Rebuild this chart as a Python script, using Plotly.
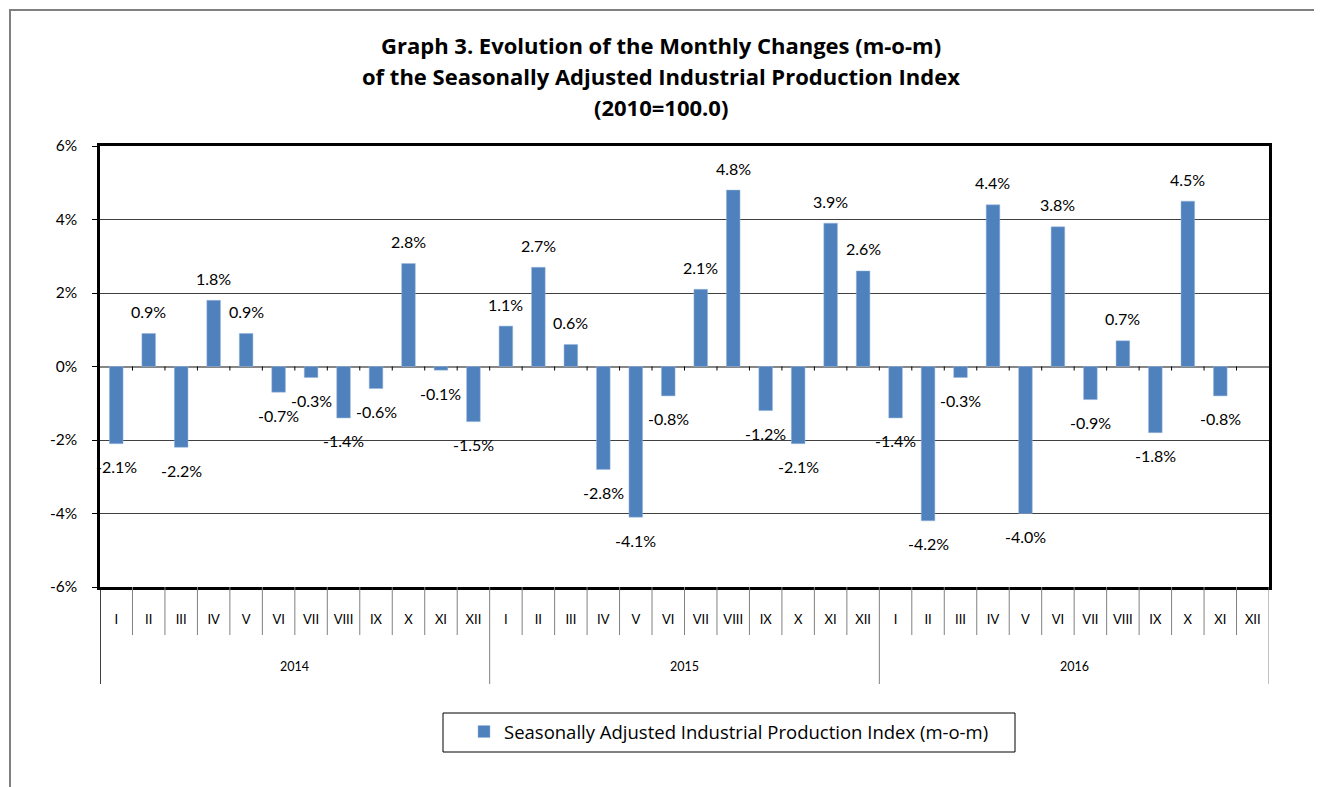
import plotly.graph_objects as go

years = ["2014", "2015", "2016"]
months = ["I", "II", "III", "IV", "V", "VI", "VII", "VIII", "IX", "X", "XI", "XII"]

# m-o-m change, %, one list per year (2016 XII not yet published)
mom_2014 = [-2.1, 0.9, -2.2, 1.8, 0.9, -0.7, -0.3, -1.4, -0.6, 2.8, -0.1, -1.5]
mom_2015 = [1.1, 2.7, 0.6, -2.8, -4.1, -0.8, 2.1, 4.8, -1.2, -2.1, 3.9, 2.6]
mom_2016 = [-1.4, -4.2, -0.3, 4.4, -4.0, 3.8, -0.9, 0.7, -1.8, 4.5, -0.8, None]

y_ticks = [-6, -4, -2, 0, 2, 4, 6]

BLUE = "#4F81BD"
FONT = "Lato"
TITLE_FONT = "Open Sans"

# plot area on screen: x 100..1269, y 146..587 (page body adds an 8px offset)
PX_L, PX_B, PW, PH = 100, 587, 1169, 441


def px(x):
    return (x - PX_L) / PW


def py(y):
    return (PX_B - y) / PH


keys = [f"{y}-{m}" for y in years for m in months]
labels = months * len(years)
values = mom_2014 + mom_2015 + mom_2016

fig = go.Figure()
fig.add_trace(
    go.Bar(
        x=keys,
        y=values,
        name="Seasonally Adjusted Industrial Production Index (m-o-m)",
        marker=dict(color=BLUE, line=dict(color="#9DB9DE", width=0.5)),
        showlegend=True,
    )
)

# data labels sit a bit past the end of each bar, like the Excel original
annotations = []
for k, v in zip(keys, values):
    if v is None:
        continue
    annotations.append(
        dict(
            x=k, y=v, xref="x", yref="y",
            text=f"{v:.1f}%", showarrow=False,
            yshift=22 if v >= 0 else -23,
            font=dict(family=FONT, size=16, color="#000"),
        )
    )

# year labels under the month row
for i, yr in enumerate(years):
    annotations.append(
        dict(
            x=i * 12 + 5.5, y=py(666), xref="x", yref="paper",
            yanchor="middle",
            text=yr, showarrow=False,
            font=dict(family=FONT, size=12.5, color="#000"),
        )
    )

# title, three lines
title_lines = [
    "Graph 3. Evolution of the Monthly Changes (m-o-m)",
    "of the Seasonally Adjusted Industrial Production Index",
    "(2010=100.0)",
]
for j, line in enumerate(title_lines):
    annotations.append(
        dict(
            x=px(661), y=py(45 + 31 * j), xref="paper", yref="paper",
            text=f"<b>{line}</b>", showarrow=False,
            xanchor="center", yanchor="middle",
            font=dict(family=TITLE_FONT, size=22, color="#000"),
        )
    )

shapes = []
n = len(keys)
# month separators in the category axis area
for b in range(1, n):
    if b % 12 == 0:
        continue
    shapes.append(
        dict(type="line", xref="x", yref="paper", x0=b - 0.5, x1=b - 0.5,
             y0=0, y1=py(635), line=dict(color="#808080", width=1))
    )
# year separators
for b in range(0, n + 1, 12):
    shapes.append(
        dict(type="line", xref="x", yref="paper", x0=b - 0.5, x1=b - 0.5,
             y0=0, y1=py(684),
             line=dict(color="#000" if b == 0 else "#808080", width=1.5 if b == 0 else 1))
    )
# small tick marks on the zero line
for b in range(1, n):
    shapes.append(
        dict(type="line", xref="x", yref="y", ysizemode="pixel", yanchor=0,
             x0=b - 0.5, x1=b - 0.5, y0=0, y1=-4,
             line=dict(color="#000", width=1))
    )
# legend frame
shapes.append(
    dict(type="rect", xref="paper", yref="paper",
         x0=px(443), x1=px(1015), y0=py(752), y1=py(713),
         line=dict(color="#000", width=1))
)
# outer chart-area frame (left and top edges visible)
shapes.append(
    dict(type="path", xref="paper", yref="paper",
         path=f"M {px(10)} {py(800)} L {px(10)} {py(10)} L {px(1330)} {py(10)}",
         line=dict(color="#808080", width=2))
)

fig.update_layout(
    width=1322,
    height=787,
    margin=dict(l=92, r=1322 - 92 - PW, t=138, b=787 - 138 - PH),
    paper_bgcolor="white",
    plot_bgcolor="white",
    font=dict(family=FONT, size=15, color="#000"),
    bargap=0.58,
    showlegend=True,
    legend=dict(
        orientation="h",
        x=px(729), xanchor="center",
        y=py(732), yanchor="middle",
        font=dict(family=TITLE_FONT, size=18.5, color="#000"),
        bgcolor="rgba(0,0,0,0)",
        itemwidth=30,
    ),
    annotations=annotations,
    shapes=shapes,
    xaxis=dict(
        type="category",
        categoryorder="array",
        categoryarray=keys,
        tickvals=keys,
        ticktext=labels,
        ticks="outside",
        ticklen=19,
        tickcolor="rgba(0,0,0,0)",
        tickfont=dict(family=FONT, size=13, color="#000"),
        showline=True,
        linecolor="#000",
        linewidth=2.5,
        mirror=True,
        showgrid=False,
        range=[-0.5, n - 0.5],
        fixedrange=True,
    ),
    yaxis=dict(
        range=[-6, 6],
        tickvals=y_ticks,
        ticktext=[f"{t}%" for t in y_ticks],
        ticks="outside",
        ticklen=5,
        tickcolor="#000",
        ticklabelstandoff=12,
        tickfont=dict(family=FONT, size=15.5, color="#000"),
        showline=True,
        linecolor="#000",
        linewidth=2.5,
        mirror=True,
        showgrid=True,
        gridcolor="#404040",
        gridwidth=1,
        zeroline=True,
        zerolinecolor="#868686",
        zerolinewidth=1.5,
        fixedrange=True,
    ),
)

fig.write_html("out.html")
